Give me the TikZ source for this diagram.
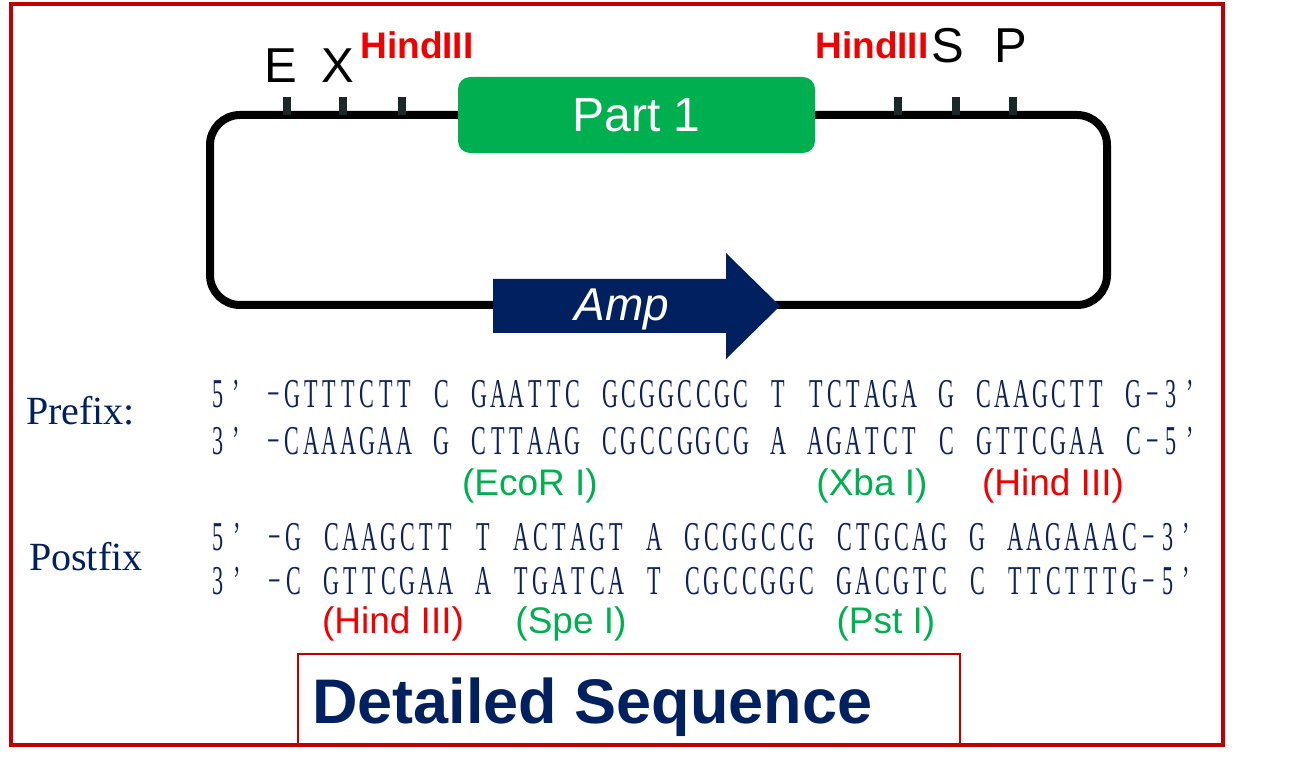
\documentclass[tikz,border=0pt]{standalone}
\usepackage{fontspec}
\setmainfont{Liberation Sans}
\newfontfamily\tnr{Liberation Serif}
\newfontfamily\seqfont[FakeStretch=0.54]{Liberation Serif}
\definecolor{framered}{HTML}{C00000}
\definecolor{navy}{HTML}{002060}
\definecolor{seqblue}{HTML}{0E2259}
\definecolor{grn}{HTML}{00B050}
\definecolor{brred}{HTML}{F00000}
\definecolor{tickc}{HTML}{1A2828}
\newlength\seqw
\setlength\seqw{18.7pt}
\def\seqloop#1{\ifx#1\relax\else\ifx#1|\hbox to\seqw{}\else\hbox to\seqw{\hss#1\hss}\fi\expandafter\seqloop\fi}
\newcommand\seqline[1]{\seqloop#1\relax}
\tikzset{
  part/.style={rectangle, rounded corners=12pt, fill=grn, text=white, minimum width=357pt, minimum height=76pt, inner sep=0pt, font=\fontsize{48}{57}\selectfont},
  amptxt/.style={anchor=base, inner sep=0pt, text=white, font=\fontsize{46}{55}\selectfont\itshape},
  site/.style={anchor=base, inner sep=0pt, text=black, font=\fontsize{49}{58}\selectfont},
  hind/.style={anchor=base, inner sep=0pt, text=brred, font=\fontsize{37}{44}\selectfont\bfseries},
  seq/.style={anchor=base west, inner sep=0pt, text=seqblue, font=\fontsize{41}{48}\seqfont},
  side/.style={anchor=base west, inner sep=0pt, text=navy, font=\fontsize{40}{48}\tnr},
  enz/.style={anchor=base, inner sep=0pt, text=grn, font=\fontsize{37}{44}\selectfont},
  enzr/.style={enz, text=brred},
  title/.style={anchor=base west, inner sep=0pt, text=navy, font=\fontsize{63}{75}\selectfont\bfseries},
}
\begin{document}
\begin{tikzpicture}[x=1pt,y=-1pt]
\useasboundingbox (0,0) rectangle (1307,775);
% outer frame
\draw[framered, line width=4pt] (11,4) rectangle (1223,745);
% plasmid loop
\draw[line width=8pt, rounded corners=30pt] (210,115) rectangle (1107,305);
% restriction site ticks
\foreach \x in {287,343,402,898,956,1013}
  \fill[tickc] (\x-4,97) rectangle (\x+4,115);
% Part 1
\node[part] (part1) at (636.5,115) {Part 1};
% Amp arrow
\fill[navy] (493,279) -- (726,279) -- (726,253) -- (780,306) -- (726,359) -- (726,333) -- (493,333) -- cycle;
\node[amptxt] (amp) at (622,321) {Amp};
% site labels
\node[site] (e) at (281,83) {E};
\node[site] (x) at (338,83) {X};
\node[hind] (h1) at (417,59) {HindIII};
\node[hind] (h2) at (872,59) {HindIII};
\node[site] (s) at (948,63) {S};
\node[site] (p) at (1011,63) {P};
% prefix
\node[side] (prefix) at (26,425) {Prefix:};
\node[seq] (p1) at (208,408) {\seqline{5’|−GTTTCTT|C|GAATTC|GCGGCCGC|T|TCTAGA|G|CAAGCTT|G−3’}};
\node[seq] (p2) at (208,454) {\seqline{3’|−CAAAGAA|G|CTTAAG|CGCCGGCG|A|AGATCT|C|GTTCGAA|C−5’}};
\node[enz] (ecor) at (530,495) {(EcoR I)};
\node[enz] (xba) at (872,495) {(Xba I)};
\node[enzr] (hind1) at (1053,495) {(Hind III)};
% postfix
\node[side] (postfix) at (29,570) {Postfix};
\node[seq] (s1) at (208,550) {\setlength\seqw{19pt}\seqline{5’|−G|CAAGCTT|T|ACTAGT|A|GCGGCCG|CTGCAG|G|AAGAAAC−3’}};
\node[seq] (s2) at (208,594) {\setlength\seqw{19pt}\seqline{3’|−C|GTTCGAA|A|TGATCA|T|CGCCGGC|GACGTC|C|TTCTTTG−5’}};
\node[enzr] (hind2) at (393,633) {(Hind III)};
\node[enz] (spe) at (571,633) {(Spe I)};
\node[enz] (pst) at (886,633) {(Pst I)};
% detailed sequence box
\draw[framered, line width=2pt] (298,745) -- (298,654) -- (960,654) -- (960,745);
\node[title] (ds) at (312,723) {Detailed Sequence};
\end{tikzpicture}
\end{document}
